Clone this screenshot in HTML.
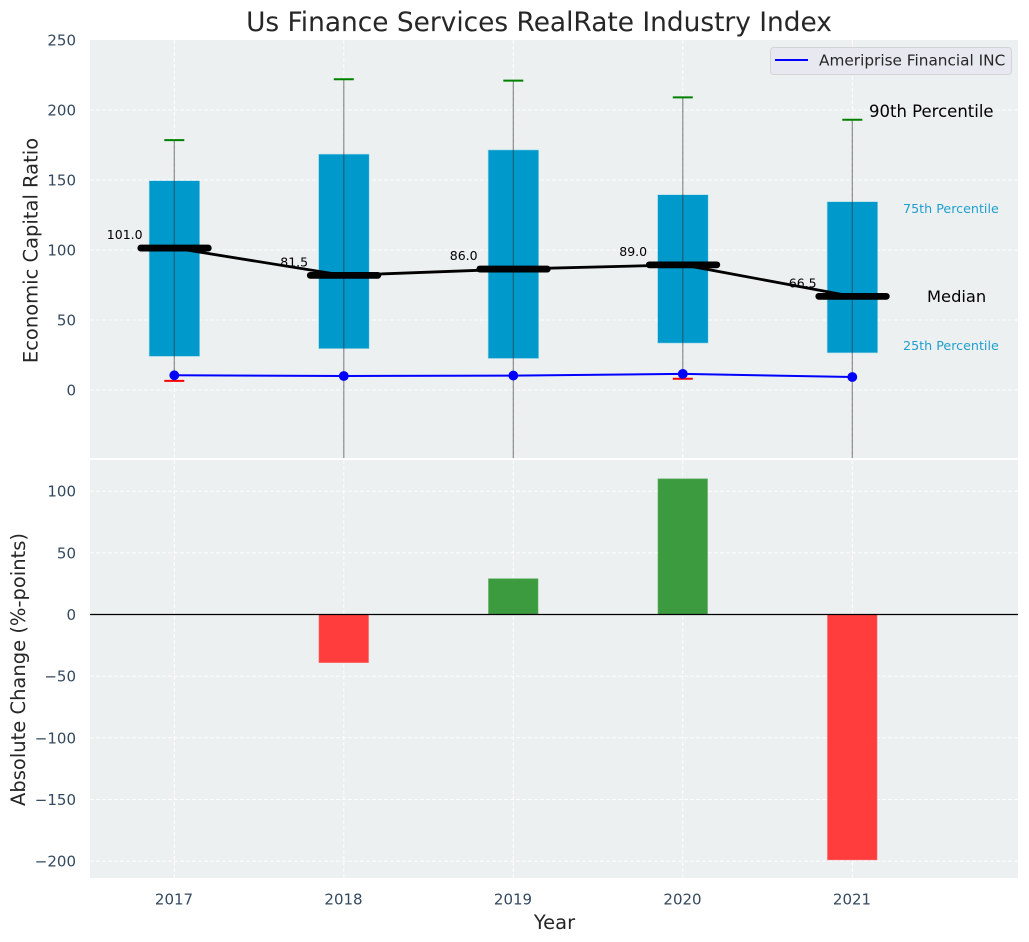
<!DOCTYPE html>
<html lang="en">
<head>
<meta charset="utf-8">
<title>Us Finance Services RealRate Industry Index</title>
<style>
html,body{margin:0;padding:0;background:#fff;}
svg{display:block;font-family:"DejaVu Sans","Liberation Sans",sans-serif;}
.tick{font-size:15px;fill:#34495e;}
.axis-title{font-size:19.5px;fill:#262626;}
</style>
</head>
<body>
<svg id="chart" width="1029" height="942" viewBox="0 0 1029 942" xmlns="http://www.w3.org/2000/svg">
  <rect x="0" y="0" width="1029" height="942" fill="#ffffff"/>
  <text x="539" y="31" text-anchor="middle" font-size="26.4" fill="#262626">Us Finance Services RealRate Industry Index</text>
  <rect x="90" y="40" width="928" height="418" fill="#ecf0f1"/>
  <rect x="90" y="460" width="928" height="418" fill="#ecf0f1"/>
  <g id="grid"></g>
  <g id="top-marks"></g>
  <g id="bottom-marks"></g>
  <g id="ticks"></g>
  <text class="axis-title" transform="translate(37.5,250.5) rotate(-90)" text-anchor="middle">Economic Capital Ratio</text>
  <text class="axis-title" transform="translate(25,669.5) rotate(-90)" text-anchor="middle">Absolute Change (%-points)</text>
  <text class="axis-title" x="554.5" y="929" text-anchor="middle">Year</text>

  <g>
    <rect x="770.5" y="47.5" width="241" height="27" rx="3" fill="#e8e9f0" stroke="#d3d4d8" stroke-width="1"/>
    <line x1="775" y1="60" x2="808" y2="60" stroke="#0000ff" stroke-width="2"/>
    <text x="819" y="65.5" font-size="15.3" fill="#262626">Ameriprise Financial INC</text>
  </g>
  <text x="869" y="117" font-size="16.5" fill="#000000">90th Percentile</text>
  <text x="903" y="213" font-size="12.7" fill="#1f9fcf">75th Percentile</text>
  <text x="927" y="302" font-size="16.3" fill="#000000">Median</text>
  <text x="903" y="350" font-size="12.7" fill="#1f9fcf">25th Percentile</text>
</svg>
<script>
const years = [2017, 2018, 2019, 2020, 2021];
const p90 = [178.5, 222, 221, 209, 193];
const p75 = [149.5, 168.5, 171.5, 139.5, 134.5];
const medians = [101.0, 81.5, 86.0, 89.0, 66.5];
const medianLabels = ["101.0", "81.5", "86.0", "89.0", "66.5"];
const p25 = [24, 29.5, 22.5, 33.5, 26.5];
const p10 = [6.5, -120, -130, 8, -110];
const company = [10.5, 10, 10.3, 11.5, 9.3];
const changeValues = [0, -39, 29, 110, -199];
const topTicks = [0, 50, 100, 150, 200, 250];
const bottomTicks = [-200, -150, -100, -50, 0, 50, 100];

const NS = "http://www.w3.org/2000/svg";
const TOP = {l: 90, r: 1018, t: 40, b: 458};
const BOT = {l: 90, r: 1018, t: 460, b: 878};
function x(year) { return 174.3 + (year - 2017) * 169.5; }
function yTop(v) { return 390 - v * 1.4; }
function yBot(v) { return 614.5 - v * 1.233; }
function make(parent, tag, attrs, text) {
  const el = document.createElementNS(NS, tag);
  for (const k in attrs) el.setAttribute(k, attrs[k]);
  if (text !== undefined) el.textContent = text;
  parent.appendChild(el);
  return el;
}
function fmtTick(v) { return v < 0 ? "\u2212" + Math.abs(v) : String(v); }

const grid = document.getElementById("grid");
const topG = document.getElementById("top-marks");
const botG = document.getElementById("bottom-marks");
const ticks = document.getElementById("ticks");
const gridStyle = {stroke: "#ffffff", "stroke-width": 1, "stroke-dasharray": "4 2", fill: "none", opacity: 0.9};

topTicks.forEach(function (t) {
  const py = yTop(t);
  if (py > TOP.t + 1) {
    const g = make(grid, "line", Object.assign({x1: TOP.l, x2: TOP.r, y1: py, y2: py}, gridStyle));
    
    
  }
  const lab = make(ticks, "text", {class: "tick", x: 76, y: py + 5.5, "text-anchor": "end"}, fmtTick(t));
  
  
});
bottomTicks.forEach(function (t) {
  const py = yBot(t);
  const g = make(grid, "line", Object.assign({x1: BOT.l, x2: BOT.r, y1: py, y2: py}, gridStyle));
  
  
  const lab = make(ticks, "text", {class: "tick", x: 76, y: py + 5.5, "text-anchor": "end"}, fmtTick(t));
  
  
});
years.forEach(function (yr) {
  const px = x(yr);
  const a = make(grid, "line", Object.assign({x1: px, x2: px, y1: TOP.t, y2: TOP.b}, gridStyle));
  
  
  const b = make(grid, "line", Object.assign({x1: px, x2: px, y1: BOT.t, y2: BOT.b}, gridStyle));
  
  
  const lab = make(ticks, "text", {class: "tick", x: px - 0.3, y: 904.5, "text-anchor": "middle"}, String(yr));
  
  
});

/* interquartile boxes */
years.forEach(function (yr, i) {
  const px = x(yr);
  const box = make(topG, "rect", {x: px - 25.2, y: yTop(p75[i]), width: 50.6, height: yTop(p25[i]) - yTop(p75[i]), fill: "#0099cc", stroke: "#a9dcec", "stroke-width": 0.6});
  
  
});

/* whiskers and caps */
years.forEach(function (yr, i) {
  const px = x(yr);
  const lowY = Math.min(yTop(p10[i]), TOP.b);
  const w = make(topG, "line", {x1: px, x2: px, y1: yTop(p90[i]), y2: lowY, stroke: "#333333", "stroke-opacity": 0.55, "stroke-width": 1.2});
  
  
  const top = make(topG, "line", {x1: px - 10, x2: px + 10, y1: yTop(p90[i]), y2: yTop(p90[i]), stroke: "#008000", "stroke-width": 2});
  
  
  if (yTop(p10[i]) < TOP.b) {
    const low = make(topG, "line", {x1: px - 10, x2: px + 10, y1: yTop(p10[i]), y2: yTop(p10[i]), stroke: "#ff0000", "stroke-width": 2});
    
    
  }
});

/* median trend line */
const medianPath = make(topG, "polyline", {points: years.map(function (yr, i) { return x(yr) + "," + yTop(medians[i] + 0.4); }).join(" "), fill: "none", stroke: "#000000", "stroke-width": 2.8});



years.forEach(function (yr, i) {
  const px = x(yr), py = yTop(medians[i] + 0.4);
  const m = make(topG, "line", {x1: px - 33.5, x2: px + 34, y1: py, y2: py, stroke: "#000000", "stroke-width": 6.8, "stroke-linecap": "round"});
  
  
  const t = make(topG, "text", {x: px - 49.6, y: py - 9, "text-anchor": "middle", "font-size": 12.5, fill: "#000000"}, medianLabels[i]);
  
  
});

/* company series */
const companyPath = make(topG, "polyline", {points: years.map(function (yr, i) { return x(yr) + "," + yTop(company[i]); }).join(" "), fill: "none", stroke: "#0000ff", "stroke-width": 2});


years.forEach(function (yr, i) {
  const d = make(topG, "circle", {cx: x(yr), cy: yTop(company[i]), r: 4.9, fill: "#0000ff"});
  
  
});

/* change bars */
years.forEach(function (yr, i) {
  const v = changeValues[i];
  if (v === 0) return;
  const px = x(yr);
  const y0 = Math.min(yBot(v), yBot(0));
  const h = Math.abs(yBot(v) - yBot(0));
  const pos = v > 0;
  const bar = make(botG, "rect", {x: px - 24.8, y: y0, width: 49.5, height: h, fill: pos ? "#3c9b3f" : "#ff3d3d", stroke: pos ? "#5cae5f" : "#ff6464", "stroke-width": 0.6});
  
  
});
const zero = make(botG, "line", {x1: BOT.l, x2: BOT.r, y1: yBot(0), y2: yBot(0), stroke: "#000000", "stroke-width": 1.2});


</script>
</body>
</html>
